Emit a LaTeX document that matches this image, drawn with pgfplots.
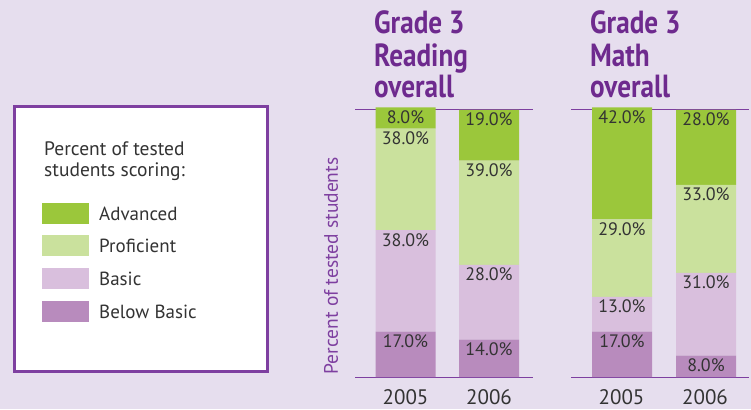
\documentclass[border=0pt]{standalone}
\usepackage{pgfplots}
\pgfplotsset{compat=1.18}
\usepackage{fontspec}
\setmainfont{PT Sans}
\definecolor{bg}{HTML}{E6DEEE}
\definecolor{adv}{HTML}{9BC73B}
\definecolor{prof}{HTML}{CAE19D}
\definecolor{basicc}{HTML}{D9BFDD}
\definecolor{belowc}{HTML}{B88BBD}
\definecolor{ttl}{HTML}{6E2A8E}
\definecolor{lpurple}{HTML}{7E3FA0}
\definecolor{txt}{HTML}{333333}
\pgfplotsset{
  geom/.style={
    scale only axis, width=178bp, height=267bp,
    xmin=0, xmax=178, ymin=0, ymax=100, clip=false,
  },
  mybars/.style={
    geom, ybar stacked, bar width=60,
    separate axis lines,
    y axis line style={draw=none},
    x axis line style={draw=lpurple, line width=1bp},
    xtick={50.5,134}, xticklabels={2005,2006}, ytick=\empty,
    major tick length=0,
    xticklabel style={font=\fontsize{21bp}{24bp}\selectfont, text=txt, yshift=-9bp},
    every axis plot/.append style={draw=none},
  },
  labs/.style={
    geom, hide axis, no markers,
    point meta=explicit symbolic,
    nodes near coords={\pgfplotspointmeta\%},
    every node near coord/.append style={anchor=north, font=\fontsize{18bp}{20bp}\selectfont, text=txt, yshift=0.5bp},
    every axis plot post/.append style={draw=none, mark=none},
  },
}
\begin{document}
\begin{tikzpicture}[x=1bp,y=1bp]
\fill[bg] (0,0) rectangle (751,409);
% legend box
\draw[line width=3bp, draw=lpurple, fill=white] (14,38) rectangle (267,303);
\node[anchor=base west, align=left, inner sep=0, font=\fontsize{19.5bp}{21bp}\selectfont, text=txt] at (44,254) {Percent of tested};
\node[anchor=base west, align=left, inner sep=0, font=\fontsize{19.5bp}{21bp}\selectfont, text=txt] at (44,233) {students scoring:};
\fill[adv] (42,185) rectangle (89,206);
\fill[prof] (42,153) rectangle (89,174);
\fill[basicc] (42,120) rectangle (89,141);
\fill[belowc] (42,87) rectangle (89,108);
\begin{scope}[every node/.style={anchor=west, inner sep=0, font=\fontsize{19bp}{21bp}\selectfont, text=txt}]
\node at (99,195.5) {Advanced};
\node at (99,163.5) {Proficient};
\node at (99,130.5) {Basic};
\node at (99,97.5) {Below Basic};
\end{scope}
% titles
\begin{scope}[every node/.style={anchor=base west, inner sep=0, font=\fontsize{32bp}{34bp}\selectfont\bfseries, text=ttl, xscale=0.85, transform shape}]
\node at (374,376) {Grade 3};
\node at (374,343) {Reading};
\node at (374,312) {overall};
\node at (590,376) {Grade 3};
\node at (590,343) {Math};
\node at (590,312) {overall};
\end{scope}
% y label
\node[rotate=90, font=\fontsize{19.5bp}{20bp}\selectfont, text=lpurple, inner sep=0] at (331,143) {Percent of tested students};
% Reading
\begin{axis}[mybars, at={(355bp,32bp)}, anchor=south west]
\addplot[fill=belowc] coordinates {(50.5,17) (134,14)};
\addplot[fill=basicc] coordinates {(50.5,38) (134,28)};
\addplot[fill=prof] coordinates {(50.5,38) (134,39)};
\addplot[fill=adv] coordinates {(50.5,8) (134,19)};
\end{axis}
\begin{axis}[labs, at={(355bp,32bp)}, anchor=south west]
\addplot[draw=none] coordinates {(50.5,17) [17.0] (134,14) [14.0]};
\addplot[draw=none] coordinates {(50.5,55) [38.0] (134,42) [28.0]};
\addplot[draw=none] coordinates {(50.5,93) [38.0] (134,81) [39.0]};
\addplot[draw=none] coordinates {(50.5,101) [8.0] (134,100) [19.0]};
\end{axis}
% Math
\begin{axis}[mybars, at={(571bp,32bp)}, anchor=south west]
\addplot[fill=belowc] coordinates {(51,17) (135,8)};
\addplot[fill=basicc] coordinates {(51,13) (135,31)};
\addplot[fill=prof] coordinates {(51,29) (135,33)};
\addplot[fill=adv] coordinates {(51,42) (135,28)};
\end{axis}
\begin{axis}[labs, at={(571bp,32bp)}, anchor=south west]
\addplot[draw=none] coordinates {(51,17) [17.0] (135,8) [8.0]};
\addplot[draw=none] coordinates {(51,30) [13.0] (135,39) [31.0]};
\addplot[draw=none] coordinates {(51,59) [29.0] (135,72) [33.0]};
\addplot[draw=none] coordinates {(51,101) [42.0] (135,100) [28.0]};
\end{axis}
\pgfresetboundingbox
\path (0,0) rectangle (751,409);
\end{tikzpicture}
\end{document}
